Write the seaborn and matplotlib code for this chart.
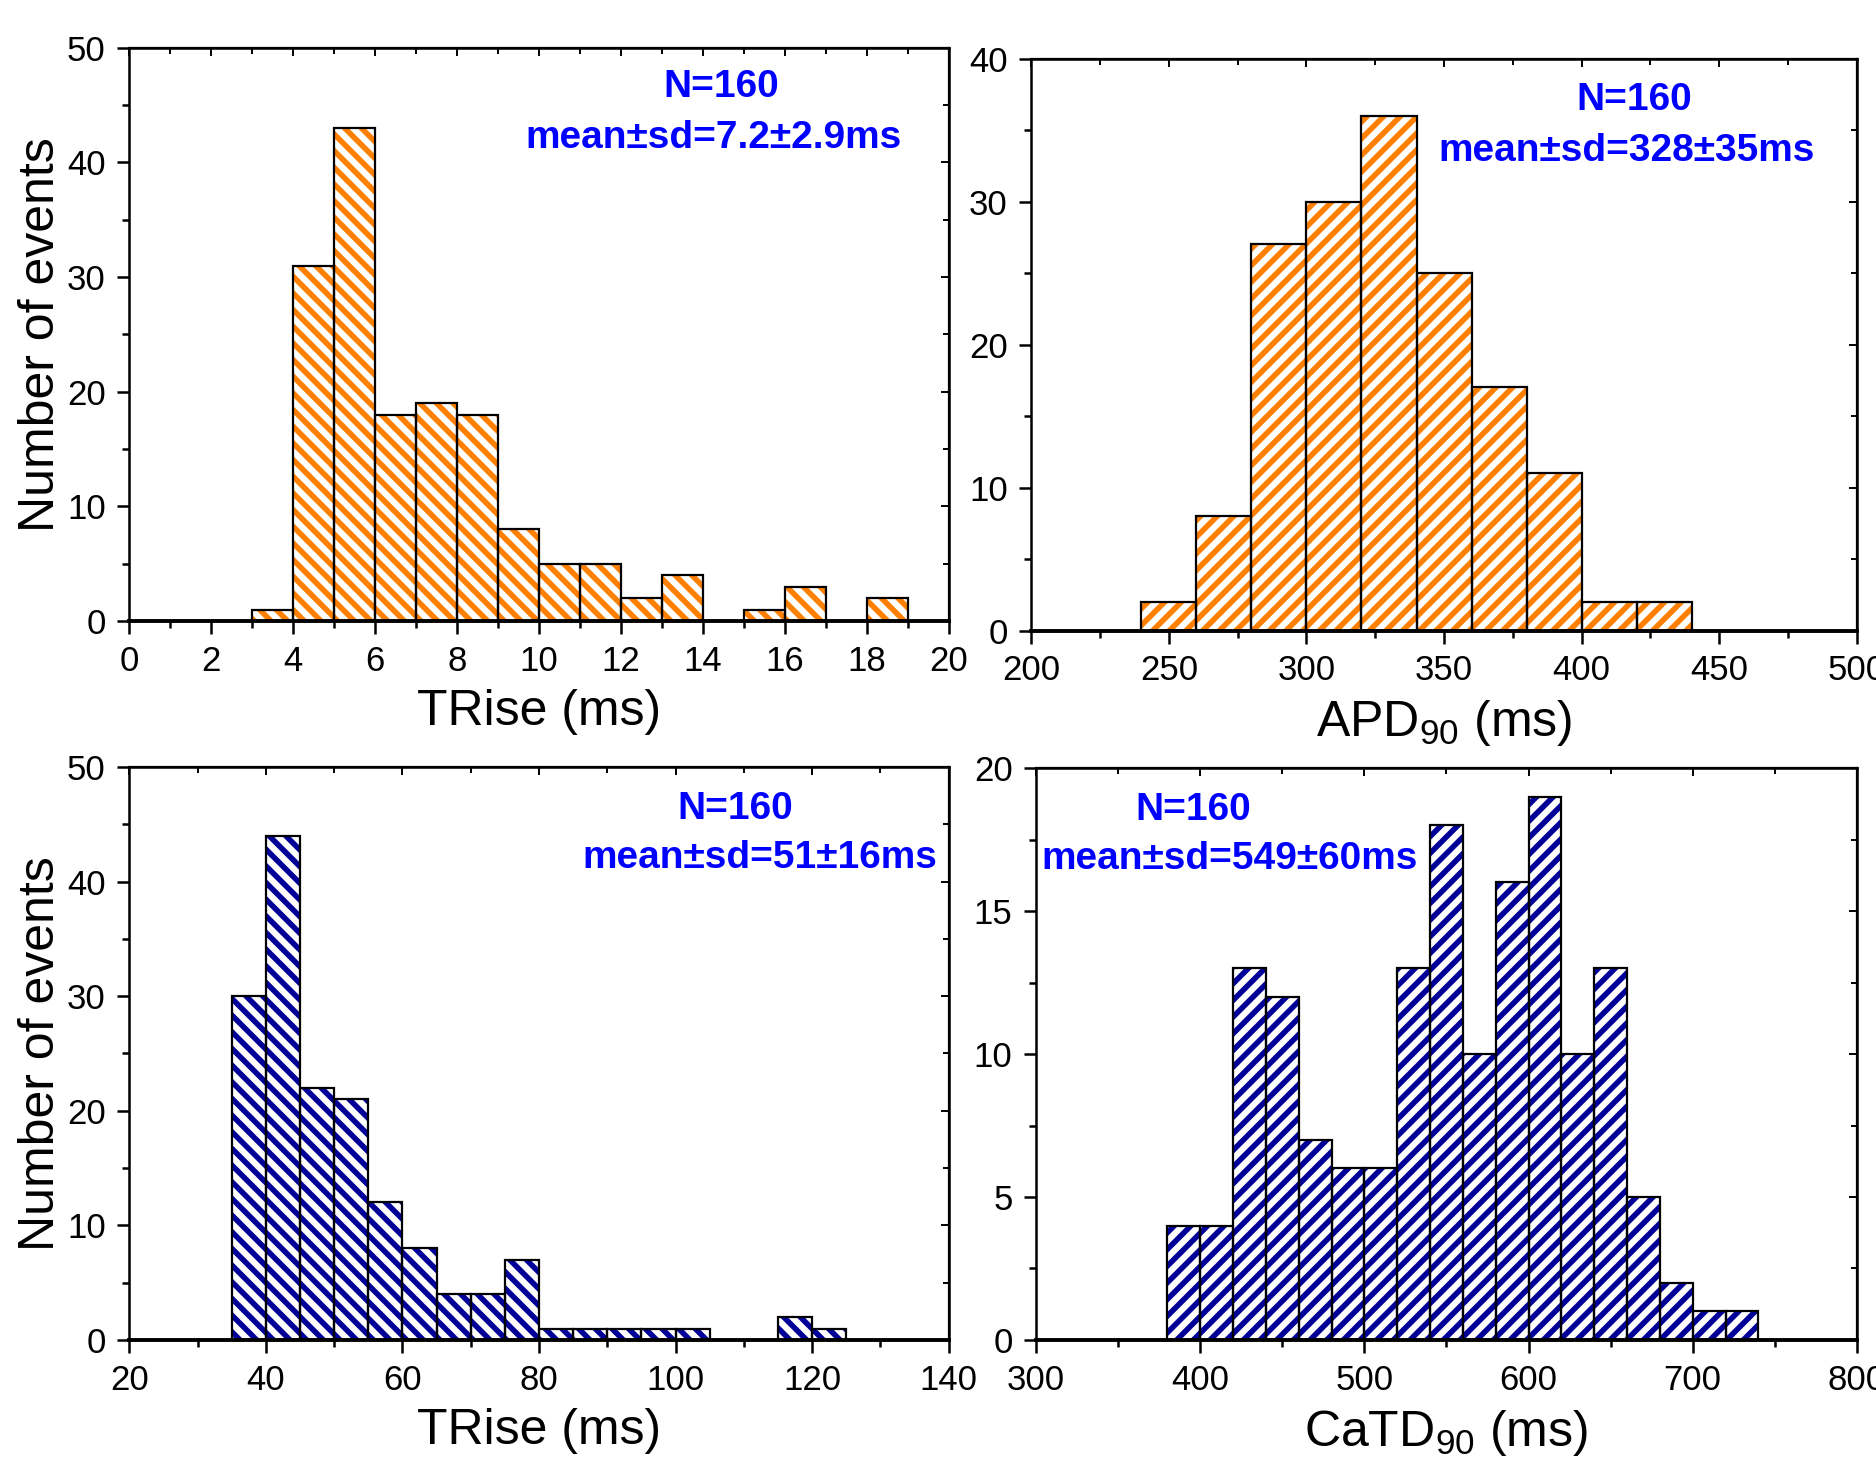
import matplotlib
matplotlib.use("Agg")
import matplotlib.pyplot as plt
from matplotlib.ticker import MultipleLocator
import seaborn as sns

# top-left: AP rise time (orange)
ap_trise_edges = [3, 4, 5, 6, 7, 8, 9, 10, 11, 12, 13, 14, 15, 16, 17, 18, 19]
ap_trise_counts = [1, 31, 43, 18, 19, 18, 8, 5, 5, 2, 4, 0, 1, 3, 0, 2]

# top-right: APD90 (orange)
apd90_edges = [240, 260, 280, 300, 320, 340, 360, 380, 400, 420, 440]
apd90_counts = [2, 8, 27, 30, 36, 25, 17, 11, 2, 2]

# bottom-left: Ca transient rise time (blue)
ca_trise_edges = [35, 40, 45, 50, 55, 60, 65, 70, 75, 80, 85, 90, 95, 100,
                  105, 110, 115, 120, 125]
ca_trise_counts = [30, 44, 22, 21, 12, 8, 4, 4, 7, 1, 1, 1, 1, 1, 0, 0, 2, 1]

# bottom-right: CaTD90 (blue)
catd90_edges = [380, 400, 420, 440, 460, 480, 500, 520, 540, 560, 580, 600,
                620, 640, 660, 680, 700, 720, 740]
catd90_counts = [4, 4, 13, 12, 7, 6, 6, 13, 18, 10, 16, 19, 10, 13, 5, 2, 1, 1]

n_events = 160
ap_trise_stats = "mean±sd=7.2±2.9ms"
apd90_stats = "mean±sd=328±35ms"
ca_trise_stats = "mean±sd=51±16ms"
catd90_stats = "mean±sd=549±60ms"

ORANGE = "#FF8000"
NAVY = "#000099"
TEXT_BLUE = "#0000FF"

sns.set_style("ticks")
plt.rcParams["font.family"] = ["Liberation Sans Narrow", "Liberation Sans", "DejaVu Sans"]
plt.rcParams["mathtext.fontset"] = "custom"
plt.rcParams["mathtext.rm"] = "Liberation Sans"
plt.rcParams["mathtext.it"] = "Liberation Sans"
plt.rcParams["hatch.linewidth"] = 2.0
for key in ["text.color", "axes.labelcolor", "xtick.color", "ytick.color", "axes.edgecolor"]:
    plt.rcParams[key] = "black"


def _hatched_hist(ax, edges, counts, color, hatch):
    mids = [(a + b) / 2 for a, b in zip(edges[:-1], edges[1:])]
    # hatch layer first, black outlines on top
    sns.histplot(x=mids, weights=counts, bins=list(edges), ax=ax, color="white",
                 edgecolor=color, hatch=hatch, linewidth=0, alpha=1)
    sns.histplot(x=mids, weights=counts, bins=list(edges), ax=ax, facecolor="none",
                 edgecolor="black", linewidth=0.8, alpha=1)


def _style_axes(ax, xlim, xmajor, xminor, ylim, ymajor, yminor, xlabel, ylabel):
    ax.set_xlim(*xlim)
    ax.set_ylim(*ylim)
    ax.xaxis.set_major_locator(MultipleLocator(xmajor))
    ax.xaxis.set_minor_locator(MultipleLocator(xminor))
    ax.yaxis.set_major_locator(MultipleLocator(ymajor))
    ax.yaxis.set_minor_locator(MultipleLocator(yminor))
    ax.tick_params(which="both", direction="out", top=False, right=False,
                   width=0.9, labelsize=12.5, pad=4)
    ax.tick_params(which="major", length=4.5)
    ax.tick_params(which="minor", length=2.5)
    for side in ["top", "right", "left"]:
        ax.spines[side].set_linewidth(0.9)
    ax.spines["bottom"].set_linewidth(1.4)
    # inward ticks on top/right like the original
    sec_x = ax.secondary_xaxis("top")
    sec_x.xaxis.set_major_locator(MultipleLocator(xmajor))
    sec_x.xaxis.set_minor_locator(MultipleLocator(xminor))
    sec_x.tick_params(which="both", direction="in", labeltop=False, width=0.7)
    sec_x.tick_params(which="major", length=3)
    sec_x.tick_params(which="minor", length=2)
    sec_y = ax.secondary_yaxis("right")
    sec_y.yaxis.set_major_locator(MultipleLocator(ymajor))
    sec_y.yaxis.set_minor_locator(MultipleLocator(yminor))
    sec_y.tick_params(which="both", direction="in", labelright=False, width=0.7)
    sec_y.tick_params(which="major", length=3)
    sec_y.tick_params(which="minor", length=2)
    ax.set_xlabel(xlabel, fontsize=18, labelpad=4)
    ax.set_ylabel(ylabel, fontsize=18, labelpad=1)


def _stats_text(ax, x_n, x_stats, y_n, y_stats, stats):
    kw = dict(transform=ax.transAxes, ha="center", va="center", color=TEXT_BLUE,
              fontsize=14, fontweight="bold", family=["Liberation Sans", "DejaVu Sans"])
    ax.text(x_n, y_n, f"N={n_events}", **kw)
    ax.text(x_stats, y_stats, stats, **kw)


fig = plt.figure(figsize=(9.38, 7.34), dpi=200)
ax1 = fig.add_axes([0.0689, 0.577, 0.4368, 0.3904])
ax2 = fig.add_axes([0.5497, 0.5705, 0.4401, 0.3896])
ax3 = fig.add_axes([0.0689, 0.0872, 0.4368, 0.3904])
ax4 = fig.add_axes([0.5523, 0.0872, 0.4375, 0.3896])

_hatched_hist(ax1, ap_trise_edges, ap_trise_counts, ORANGE, "\\\\\\\\")
_style_axes(ax1, (0, 20), 2, 1, (0, 50), 10, 5, "TRise (ms)", "Number of events")
_stats_text(ax1, 0.723, 0.713, 0.931, 0.843, ap_trise_stats)

_hatched_hist(ax2, apd90_edges, apd90_counts, ORANGE, "////")
_style_axes(ax2, (200, 500), 50, 25, (0, 40), 10, 5, "APD$_{90}$ (ms)", "")
_stats_text(ax2, 0.730, 0.721, 0.927, 0.839, apd90_stats)

_hatched_hist(ax3, ca_trise_edges, ca_trise_counts, NAVY, "\\\\\\\\")
_style_axes(ax3, (20, 140), 20, 10, (0, 50), 10, 5, "TRise (ms)", "Number of events")
_stats_text(ax3, 0.739, 0.769, 0.927, 0.841, ca_trise_stats)

_hatched_hist(ax4, catd90_edges, catd90_counts, NAVY, "////")
_style_axes(ax4, (300, 800), 100, 50, (0, 20), 5, 2.5, "CaTD$_{90}$ (ms)", "")
_stats_text(ax4, 0.191, 0.236, 0.927, 0.841, catd90_stats)

fig.savefig("out.png", dpi=200)
plt.close(fig)
